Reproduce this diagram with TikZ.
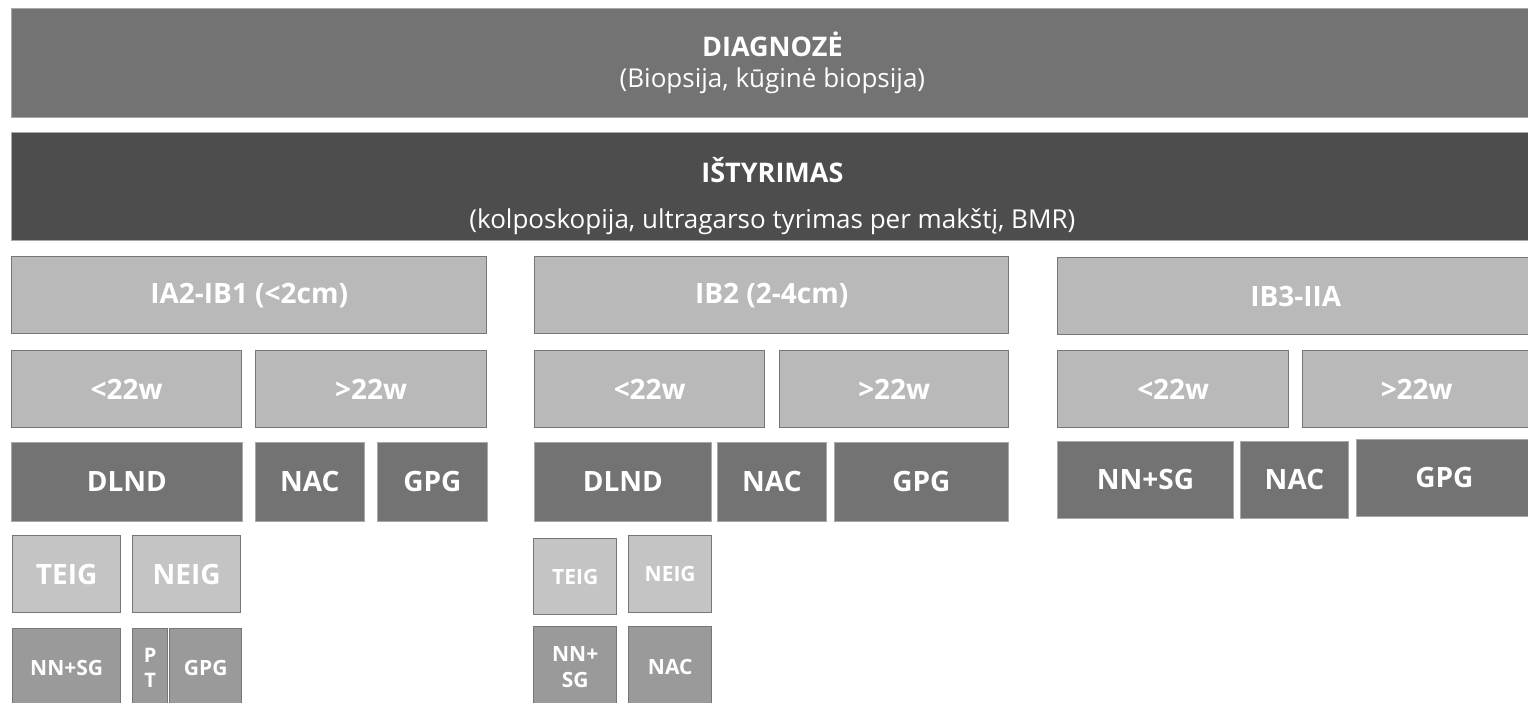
\documentclass[tikz,border=0pt]{standalone}
\usepackage{fontspec}
\setmainfont{Open Sans}
\usepackage{xcolor}
\usepackage{tikz}

\definecolor{barA}{HTML}{737373}
\definecolor{barB}{HTML}{4D4D4D}
\definecolor{lightfill}{HTML}{B9B9B9}
\definecolor{palefill}{HTML}{C4C4C4}
\definecolor{midfill}{HTML}{9A9A9A}
\definecolor{edge}{HTML}{777777}
\definecolor{softedge}{HTML}{A8A8A8}

\begin{document}
\begin{tikzpicture}[
			x=1pt, y=-1pt,
			cell/.style 2 args={minimum width=#1pt, minimum height=#2pt, anchor=north west, inner sep=0pt, text=white, align=center},
			headbar/.style={fill=barA, draw=softedge, line width=0.8pt, font=\fontsize{26}{31}\selectfont},
			studybar/.style={fill=barB, draw=softedge, line width=0.8pt, font=\fontsize{26}{31}\selectfont},
			stagebox/.style={fill=lightfill, draw=edge, line width=1.4pt, font=\fontsize{28}{30}\selectfont\bfseries},
			treatbox/.style={fill=barA, draw=softedge, line width=0.8pt, font=\fontsize{28}{30}\selectfont\bfseries},
			lymphbox/.style={fill=palefill, draw=edge, line width=1.4pt},
			surgbox/.style={fill=midfill, draw=edge, line width=1.4pt},
			bigtxt/.style={font=\fontsize{28}{30}\selectfont\bfseries},
			smalltxt/.style={font=\fontsize{21}{26}\selectfont\bfseries}
			]
			% kadras
			\useasboundingbox (0,0) rectangle (1528,702);
			\clip (0,0) rectangle (1528,702);
			\fill[white] (0,0) rectangle (1528,702);
			
			% =========================================================
			% Viršutinės juostos
			% =========================================================
			\node[headbar, cell={1522}{109}] (diag) at (11,8)
			{{\fontsize{27}{31}\selectfont\bfseries DIAGNOZĖ}\\
				(Biopsija, kūginė biopsija)};
			\node[studybar, cell={1522}{108}] (tyr) at (11,132)
			{\rule{0pt}{44pt}{\fontsize{27}{31}\selectfont\bfseries IŠTYRIMAS}\\[15pt]
				(kolposkopija, ultragarso tyrimas per makštį, BMR)};
			
			% =========================================================
			% Stadijos
			% =========================================================
			\node[stagebox, cell={475}{77}] (st1) at (11,256) {IA2-IB1 (<2cm)};
			\node[stagebox, cell={474}{77}] (st2) at (534,256) {IB2 (2-4cm)};
			\node[stagebox, cell={476}{77}] (st3) at (1057,257) {IB3-IIA};
			
			% Nėštumo trukmė
			\node[stagebox, cell={230}{77}] (w1a) at (11,350) {<22w};
			\node[stagebox, cell={231}{77}] (w1b) at (255,350) {>22w};
			\node[stagebox, cell={230}{77}] (w2a) at (534,350) {<22w};
			\node[stagebox, cell={229}{77}] (w2b) at (779,350) {>22w};
			\node[stagebox, cell={231}{77}] (w3a) at (1057,350) {<22w};
			\node[stagebox, cell={228}{77}] (w3b) at (1302,350) {>22w};
			
			% Gydymas
			\node[treatbox, cell={231}{79}] (t1a) at (11,442) {DLND};
			\node[treatbox, cell={109}{79}] (t1b) at (255,442) {NAC};
			\node[treatbox, cell={110}{79}] (t1c) at (377,442) {GPG};
			\node[treatbox, cell={177}{79}] (t2a) at (534,442) {DLND};
			\node[treatbox, cell={109}{79}] (t2b) at (717,442) {NAC};
			\node[treatbox, cell={174}{79}] (t2c) at (834,442) {GPG};
			\node[treatbox, cell={176}{77}] (t3a) at (1057,441) {NN+SG};
			\node[treatbox, cell={108}{77}] (t3b) at (1240,441) {NAC};
			\node[treatbox, cell={176}{77}] (t3c) at (1356,439) {GPG};
			
			% Limfmazgiai
			\node[lymphbox, bigtxt, cell={108}{77}] (s1a) at (12,535) {TEIG};
			\node[lymphbox, bigtxt, cell={108}{77}] (s1b) at (132,535) {NEIG};
			\node[lymphbox, smalltxt, cell={83}{76}] (s2a) at (533,538) {TEIG};
			\node[lymphbox, smalltxt, cell={83}{77}] (s2b) at (628,535) {NEIG};
			
			% Apatinė eilė
			\node[surgbox, smalltxt, cell={108}{79}] (b1a) at (12,628) {NN+SG};
			\node[surgbox, font=\fontsize{20}{25}\selectfont\bfseries, cell={35}{79}] (b1b) at (132,628) {P\\T};
			\node[surgbox, smalltxt, cell={72}{79}] (b1c) at (169,628) {GPG};
			\node[surgbox, smalltxt, cell={83}{81}] (b2a) at (533,626) {NN+\\SG};
			\node[surgbox, smalltxt, cell={83}{81}] (b2b) at (628,626) {NAC};
			
\end{tikzpicture}
\end{document}
